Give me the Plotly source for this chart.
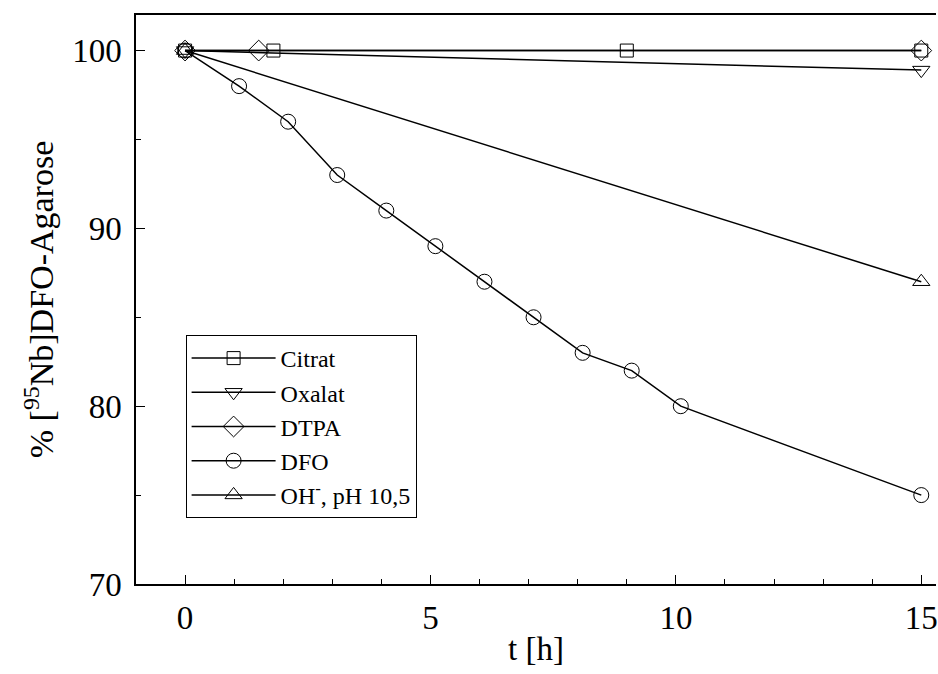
import plotly.graph_objects as go

# Time points [h] and retained activity [%] for each competing ligand
citrat_t = [0, 1.8, 9, 15]
citrat_y = [100, 100, 100, 100]

oxalat_t = [0, 15]
oxalat_y = [100, 98.9]

dtpa_t = [0, 1.5, 15]
dtpa_y = [100, 100, 100]

dfo_t = [0, 1.1, 2.1, 3.1, 4.1, 5.1, 6.1, 7.1, 8.1, 9.1, 10.1, 15]
dfo_y = [100, 98, 96, 93, 91, 89, 87, 85, 83, 82, 80, 75]

oh_t = [0, 15]
oh_y = [100, 87]

series = [
    ("Citrat", citrat_t, citrat_y, "square-open", 13),
    ("Oxalat", oxalat_t, oxalat_y, "triangle-down-open", 15),
    ("DTPA", dtpa_t, dtpa_y, "diamond-open", 16),
    ("DFO", dfo_t, dfo_y, "circle-open", 15),
    ("OH<sup>-</sup>, pH 10,5", oh_t, oh_y, "triangle-up-open", 15),
]

FONT = "Liberation Serif"

fig = go.Figure()
for name, t, y, sym, size in series:
    fig.add_trace(go.Scatter(
        x=t, y=y, name=name, mode="lines+markers",
        line=dict(color="black", width=1.5),
        marker=dict(symbol=sym, size=size, color="black",
                    line=dict(color="black", width=1)),
    ))

fig.update_layout(
    width=938, height=674,
    margin=dict(l=136, r=0, t=15, b=90),
    paper_bgcolor="white", plot_bgcolor="white",
    font=dict(family=FONT, color="black", size=32),
    showlegend=True,
    legend=dict(
        x=0.062, y=0.4376, xanchor="left", yanchor="top",
        bgcolor="white", bordercolor="black", borderwidth=1,
        font=dict(family=FONT, size=24, color="black"),
        tracegroupgap=0, itemwidth=84,
    ),
)

fig.update_xaxes(
    range=[-1.0, 15.3], tick0=0, dtick=5,
    showgrid=False, zeroline=False,
    showline=True, linecolor="black", linewidth=1.5, mirror=True,
    ticks="inside", ticklen=9, tickwidth=1, tickcolor="black",
    minor=dict(dtick=1, ticks="inside", ticklen=5, tickwidth=1, tickcolor="black"),
    tickfont=dict(family=FONT, size=33),
    ticklabelstandoff=4, ticklabeloverflow="allow",
    title=dict(text="t [h]", font=dict(family=FONT, size=33), standoff=2),
)

fig.update_yaxes(
    range=[70, 102], tick0=70, dtick=10,
    showgrid=False, zeroline=False,
    showline=True, linecolor="black", linewidth=1.5, mirror=False,
    ticks="inside", ticklen=9, tickwidth=1, tickcolor="black",
    minor=dict(dtick=5, ticks="inside", ticklen=5, tickwidth=1, tickcolor="black"),
    tickfont=dict(family=FONT, size=33),
    ticklabelstandoff=6,
    title=dict(text="% [<sup>95</sup>Nb]DFO-Agarose", font=dict(family=FONT, size=34), standoff=8),
)

fig.write_html("out.html")
